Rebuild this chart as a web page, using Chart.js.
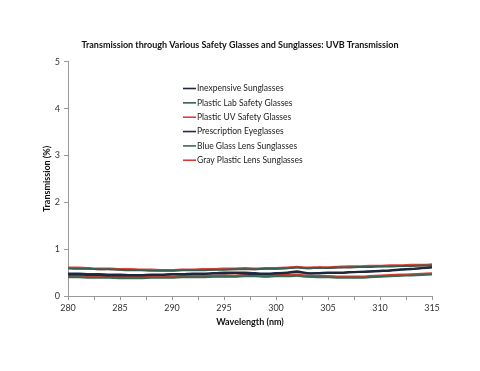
<!DOCTYPE html>
<html><head><meta charset="utf-8">
<script src="https://cdn.jsdelivr.net/npm/chart.js@4"></script>
<style>html,body{margin:0;padding:0;background:#fff}#wrap{width:480px;height:371px}</style>
</head><body><div id="wrap"><canvas id="c" width="480" height="371"></canvas></div>
<script>
const wavelengths = [280,281,282,283,284,285,286,287,288,289,290,291,292,293,294,295,296,297,298,299,300,301,302,303,304,305,306,307,308,309,310,311,312,313,314,315];
const seriesNames = ["Inexpensive Sunglasses","Plastic Lab Safety Glasses","Plastic UV Safety Glasses","Prescription Eyeglasses","Blue Glass Lens Sunglasses","Gray Plastic Lens Sunglasses"];
const inexpensive = [.46,.46,.45,.45,.44,.44,.44,.44,.45,.45,.46,.46,.47,.47,.48,.48,.49,.48,.47,.47,.48,.49,.51,.48,.48,.49,.49,.50,.51,.52,.53,.54,.56,.57,.59,.61];
const plasticLab = [.59,.58,.58,.57,.57,.56,.55,.55,.54,.54,.54,.55,.55,.55,.56,.56,.57,.57,.57,.58,.58,.59,.61,.59,.60,.60,.61,.61,.62,.62,.63,.63,.64,.64,.65,.65];
const plasticUV = [.60,.60,.59,.58,.58,.57,.57,.56,.56,.55,.55,.56,.56,.57,.57,.58,.58,.59,.58,.59,.59,.60,.62,.60,.61,.61,.62,.63,.63,.64,.64,.65,.65,.66,.66,.67];
const prescription = [.48,.48,.47,.47,.46,.46,.45,.45,.46,.46,.47,.47,.48,.48,.49,.50,.50,.50,.49,.48,.49,.50,.53,.49,.49,.50,.50,.51,.52,.53,.54,.55,.57,.58,.60,.62];
const blueGlass = [.40,.40,.39,.39,.39,.38,.38,.38,.39,.39,.39,.40,.40,.40,.41,.41,.41,.42,.42,.41,.42,.42,.43,.41,.40,.40,.39,.39,.39,.40,.41,.42,.43,.44,.45,.46];
const grayPlastic = [.42,.42,.41,.41,.41,.40,.40,.40,.41,.41,.41,.42,.42,.42,.43,.43,.43,.44,.44,.43,.44,.44,.45,.43,.42,.42,.41,.41,.41,.42,.43,.44,.45,.46,.47,.48];
const yTicks = [0,1,2,3,4,5];
const xLabelTicks = [280,285,290,295,300,305,310,315];

const colors = ["#1d2838","#35604f","#e0403a","#1f2c4c","#3a6a52","#d33c36"];
const widths = [2,2,2.6,2,2,2.6];
const orders = [1,1,2,1,1,2];
const values = [inexpensive, plasticLab, plasticUV, prescription, blueGlass, grayPlastic];

const FONT = "Lato, 'Liberation Sans', sans-serif";

const datasets = seriesNames.map((n,i)=>({
  label:n,
  data: wavelengths.map((w,k)=>({x:w,y:values[i][k]})),
  borderColor: colors[i], backgroundColor: colors[i],
  borderWidth: widths[i], pointRadius:0, tension:0.2, order: orders[i], fill:false
}));

const legendPlugin = {
  id:'insideLegend',
  afterDraw(chart){
    const ctx = chart.ctx;
    ctx.save();
    ctx.font = "8.5px " + FONT;
    ctx.textBaseline = 'middle';
    seriesNames.forEach((n,i)=>{
      const y = 88.5 + i*14.35;
      ctx.strokeStyle = colors[i];
      ctx.lineWidth = 1.6;
      ctx.beginPath(); ctx.moveTo(183,y); ctx.lineTo(196,y); ctx.stroke();
      ctx.fillStyle = '#222';
      ctx.fillText(n,197,y);
    });
    ctx.restore();
  }
};

new Chart(document.getElementById('c'),{
  type:'line',
  data:{datasets},
  plugins:[legendPlugin],
  options:{
    responsive:false, animation:false,
    layout:{padding:{left:48,right:48,top:0,bottom:0}},
    plugins:{
      legend:{display:false},
      tooltip:{enabled:false},
      title:{display:true,text:"Transmission through Various Safety Glasses and Sunglasses: UVB Transmission",
        color:'#111',font:{family:FONT,size:9,weight:'bold'},padding:{top:40,bottom:11}}
    },
    scales:{
      x:{type:'linear',min:280,max:315,
        afterFit(s){s.height=75;},
        ticks:{stepSize:2.5,autoSkip:false,maxRotation:0,color:'#333',font:{family:FONT,size:9},padding:3,
          callback:(v)=> xLabelTicks.includes(v)? String(v):''},
        grid:{drawOnChartArea:false,drawTicks:true,tickLength:4,color:'#999'},
        border:{color:'#999'},
        title:{display:true,text:'Wavelength (nm)',color:'#111',font:{family:FONT,size:9,weight:'bold'},padding:{top:0,bottom:43.5}}
      },
      y:{min:0,max:5,
        afterFit(s){s.width=20;},
        afterBuildTicks(s){s.ticks=yTicks.map(v=>({value:v}));},
        ticks:{color:'#333',font:{family:FONT,size:9},padding:4},
        grid:{drawOnChartArea:false,drawTicks:true,tickLength:4,color:'#999'},
        border:{color:'#999'},
        title:{display:true,text:'Transmission (%)',color:'#111',font:{family:FONT,size:9,weight:'bold'},padding:{top:-6.4,bottom:0}}
      }
    }
  }
});
</script></body></html>
